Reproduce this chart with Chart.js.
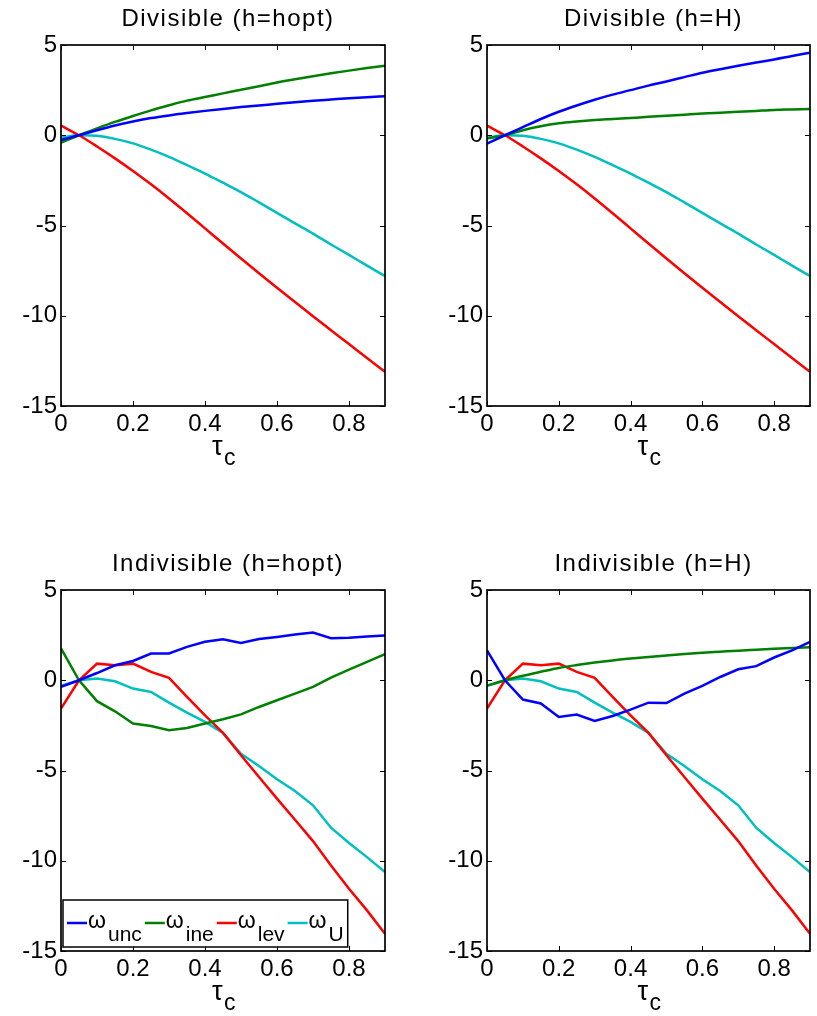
<!DOCTYPE html>
<html>
<head>
<meta charset="utf-8">
<script src="https://cdn.jsdelivr.net/npm/chart.js@4.4.0/dist/chart.umd.min.js"></script>
<style>
  body { margin: 0; background: #fff; }
  #wrap { position: relative; width: 817px; height: 1016px; }
  canvas { position: absolute; }
</style>
</head>
<body>
<div id="wrap">
  <canvas id="c1" width="410" height="480" style="left:0;top:0"></canvas>
  <canvas id="c2" width="407" height="480" style="left:410px;top:0"></canvas>
  <canvas id="c3" width="410" height="506" style="left:0;top:510px"></canvas>
  <canvas id="c4" width="407" height="506" style="left:410px;top:510px"></canvas>
</div>
<script>
// tax rate grid
var tau = [0, 0.05, 0.1, 0.15, 0.2, 0.25, 0.3, 0.35, 0.4, 0.45, 0.5, 0.55, 0.6, 0.65, 0.7, 0.75, 0.8, 0.85, 0.9];
var xTicks = [0, 0.2, 0.4, 0.6, 0.8];
var yTicks = [-15, -10, -5, 0, 5];
var seriesNames = ["unc", "ine", "lev", "U"];
var seriesColors = ["#0000ff", "#008000", "#ff0000", "#00bfbf"];

// Divisible (h=hopt)
var divHoptUnc = [-0.26, 0, 0.28, 0.54, 0.76, 0.95, 1.1, 1.23, 1.35, 1.46, 1.56, 1.65, 1.74, 1.83, 1.91, 1.98, 2.05, 2.11, 2.16];
var divHoptIne = [-0.41, 0, 0.38, 0.74, 1.07, 1.38, 1.66, 1.92, 2.12, 2.32, 2.52, 2.72, 2.92, 3.1, 3.27, 3.43, 3.58, 3.72, 3.85];
var divLev = [0.53, 0, -0.62, -1.28, -1.98, -2.72, -3.5, -4.32, -5.16, -6.0, -6.83, -7.65, -8.45, -9.24, -10.03, -10.8, -11.57, -12.34, -13.1];
var divU = [-0.13, 0, -0.03, -0.2, -0.45, -0.8, -1.2, -1.65, -2.12, -2.63, -3.15, -3.72, -4.3, -4.88, -5.45, -6.05, -6.63, -7.22, -7.8];

// Divisible (h=H)
var divHUnc = [-0.46, 0, 0.45, 0.9, 1.3, 1.65, 1.97, 2.25, 2.5, 2.75, 2.98, 3.22, 3.46, 3.66, 3.85, 4.03, 4.2, 4.39, 4.57];
var divHIne = [-0.18, 0, 0.28, 0.5, 0.66, 0.76, 0.84, 0.9, 0.96, 1.02, 1.08, 1.14, 1.2, 1.25, 1.3, 1.35, 1.4, 1.43, 1.46];

// Indivisible (h=hopt)
var indHoptUnc = [-0.37, 0, 0.4, 0.83, 1.07, 1.48, 1.48, 1.85, 2.13, 2.27, 2.07, 2.29, 2.4, 2.53, 2.64, 2.33, 2.35, 2.42, 2.48];
var indHoptIne = [1.76, 0, -1.16, -1.72, -2.4, -2.53, -2.77, -2.64, -2.4, -2.16, -1.89, -1.48, -1.11, -0.74, -0.37, 0.15, 0.59, 1.02, 1.44];
var indLev = [-1.57, 0, 0.92, 0.83, 0.92, 0.46, 0.13, -0.92, -1.94, -2.92, -4.16, -5.36, -6.56, -7.73, -8.91, -10.26, -11.55, -12.75, -14.05];
var indU = [-0.31, 0, 0.09, -0.06, -0.46, -0.65, -1.24, -1.79, -2.31, -2.92, -4.07, -4.75, -5.49, -6.14, -6.93, -8.17, -9.02, -9.8, -10.63];

// Indivisible (h=H)
var indHUnc = [1.66, 0, -1.07, -1.29, -2.03, -1.9, -2.26, -1.98, -1.63, -1.24, -1.26, -0.74, -0.31, 0.18, 0.61, 0.78, 1.26, 1.66, 2.13];
var indHIne = [-0.3, 0, 0.25, 0.47, 0.68, 0.84, 0.98, 1.1, 1.2, 1.29, 1.37, 1.45, 1.52, 1.58, 1.64, 1.69, 1.74, 1.79, 1.83];

var FONT = '"Liberation Sans", Arial, Helvetica, sans-serif';

// box, inward ticks, title, x label and legend
var frame = {
  id: 'frame',
  afterDatasetsDraw: function (chart, args, opts) {
    var ctx = chart.ctx, a = chart.chartArea;
    var xs = chart.scales.x, ys = chart.scales.y;
    ctx.save();
    ctx.strokeStyle = '#000';
    ctx.lineWidth = 1;
    ctx.beginPath();
    xs.ticks.forEach(function (t) {
      var px = Math.round(xs.getPixelForValue(t.value)) + 0.5;
      ctx.moveTo(px, a.bottom); ctx.lineTo(px, a.bottom - 5);
      ctx.moveTo(px, a.top); ctx.lineTo(px, a.top + 5);
    });
    ys.ticks.forEach(function (t) {
      var py = Math.round(ys.getPixelForValue(t.value)) + 0.5;
      ctx.moveTo(a.left, py); ctx.lineTo(a.left + 5, py);
      ctx.moveTo(a.right, py); ctx.lineTo(a.right - 5, py);
    });
    ctx.stroke();
    ctx.lineWidth = 1.7;
    ctx.strokeRect(a.left, a.top, a.right - a.left, a.bottom - a.top);

    var cx = (a.left + a.right) / 2;
    ctx.fillStyle = '#000';
    // title
    ctx.font = '24px ' + FONT;
    ctx.letterSpacing = '1.5px';
    ctx.textAlign = 'center';
    ctx.textBaseline = 'alphabetic';
    ctx.fillText(opts.title, cx + 5, a.top - 19);
    ctx.letterSpacing = '0px';
    // x label tau_c
    ctx.textAlign = 'left';
    ctx.font = '27px ' + FONT;
    ctx.fillText('\u03c4', cx - 11, a.bottom + 49);
    ctx.font = '23px ' + FONT;
    ctx.fillText('c', cx + 1, a.bottom + 59);

    if (opts.legend) {
      var bx = a.left + 2, by = a.bottom - 51, bh = 47;
      var px = bx + 4, ly = by + 23;
      var items = [];
      chart.data.datasets.forEach(function (ds) {
        ctx.font = '23px ' + FONT;
        var ww = ctx.measureText('\u03c9').width;
        ctx.font = '21px ' + FONT;
        var sw = ctx.measureText(ds.label).width;
        items.push({ x: px, c: ds.borderColor, t: ds.label, ww: ww });
        px += 20 + 1 + ww + 2 + sw + 3;
      });
      var bw = px - 3 + 4 - bx;
      ctx.fillStyle = '#fff';
      ctx.fillRect(bx, by, bw, bh);
      ctx.lineWidth = 1.5;
      ctx.strokeStyle = '#000';
      ctx.strokeRect(bx, by, bw, bh);
      items.forEach(function (it) {
        ctx.strokeStyle = it.c;
        ctx.lineWidth = 2.5;
        ctx.beginPath();
        ctx.moveTo(it.x, ly); ctx.lineTo(it.x + 20, ly);
        ctx.stroke();
        ctx.fillStyle = '#000';
        ctx.font = '23px ' + FONT;
        ctx.fillText('\u03c9', it.x + 21, by + 28);
        ctx.font = '21px ' + FONT;
        ctx.fillText(it.t, it.x + 21 + it.ww + 2, by + 41);
      });
    }
    ctx.restore();
  }
};

function makeChart(id, title, data, smooth, opt) {
  var datasets = data.map(function (vals, i) {
    return {
      label: seriesNames[i],
      data: vals.map(function (v, k) { return { x: tau[k], y: v }; }),
      borderColor: seriesColors[i],
      borderWidth: 2.5,
      pointRadius: 0,
      fill: false,
      cubicInterpolationMode: smooth[i] ? 'monotone' : 'default',
      tension: 0
    };
  });
  var tickFont = { size: 24, family: FONT };
  return new Chart(document.getElementById(id).getContext('2d'), {
    type: 'line',
    data: { datasets: datasets },
    options: {
      responsive: false,
      animation: false,
      layout: { padding: { top: opt.top, right: opt.right, left: 0, bottom: 0 } },
      plugins: {
        legend: { display: false },
        tooltip: { enabled: false },
        frame: { title: title, legend: !!opt.legend }
      },
      scales: {
        x: {
          type: 'linear', min: 0, max: 0.9,
          grid: { display: false, drawTicks: false },
          border: { display: false },
          afterBuildTicks: function (s) { s.ticks = xTicks.map(function (v) { return { value: v }; }); },
          afterFit: function (s) { s.height = opt.xh; },
          ticks: { font: tickFont, color: '#000', padding: 4, autoSkip: false, maxRotation: 0,
            callback: function (v) { return String(v); } }
        },
        y: {
          min: -15, max: 5,
          grid: { display: false, drawTicks: false },
          border: { display: false },
          afterBuildTicks: function (s) { s.ticks = yTicks.map(function (v) { return { value: v }; }); },
          afterFit: function (s) { s.width = opt.yw; },
          ticks: { font: tickFont, color: '#000', padding: 4, autoSkip: false,
            callback: function (v) { return String(v); } }
        }
      }
    },
    plugins: [frame]
  });
}

makeChart('c1', 'Divisible (h=hopt)', [divHoptUnc, divHoptIne, divLev, divU], [1, 1, 1, 1],
  { top: 45, right: 25, xh: 74, yw: 61 });
makeChart('c2', 'Divisible (h=H)', [divHUnc, divHIne, divLev, divU], [1, 1, 1, 1],
  { top: 45, right: 7, xh: 74, yw: 77 });
makeChart('c3', 'Indivisible (h=hopt)', [indHoptUnc, indHoptIne, indLev, indU], [0, 0, 0, 0],
  { top: 80, right: 25, xh: 65, yw: 61, legend: true });
makeChart('c4', 'Indivisible (h=H)', [indHUnc, indHIne, indLev, indU], [0, 1, 0, 0],
  { top: 80, right: 7, xh: 65, yw: 77 });
</script>
</body>
</html>
